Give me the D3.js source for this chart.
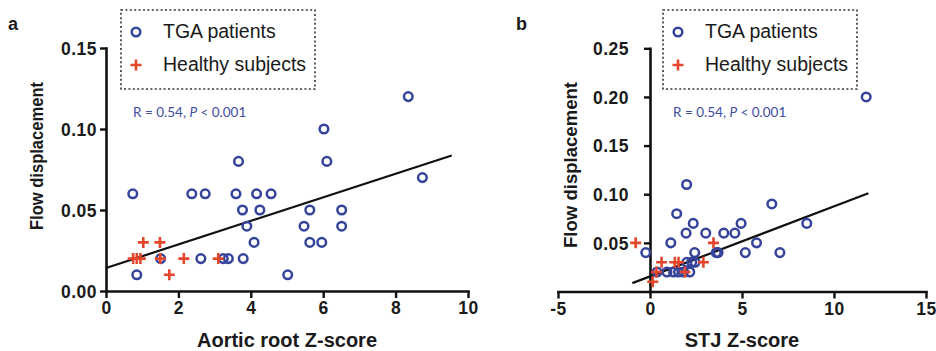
<!DOCTYPE html>
<html>
<head>
<meta charset="utf-8">
<script src="https://cdn.jsdelivr.net/npm/d3@7"></script>
<style>
  body { margin: 0; background: #fff; }
  svg { display: block; }
</style>
</head>
<body>
<svg id="svg"></svg>
<script>
// panel a: aortic root Z-score vs flow displacement
const tgaA = [
  [0.74, 0.06], [2.37, 0.06], [2.74, 0.06], [3.59, 0.06], [4.16, 0.06], [4.56, 0.06],
  [3.77, 0.05], [4.25, 0.05], [5.63, 0.05], [6.51, 0.05],
  [3.89, 0.04], [5.47, 0.04], [6.51, 0.04],
  [4.09, 0.03], [5.63, 0.03], [5.96, 0.03],
  [1.51, 0.02], [2.62, 0.02], [3.24, 0.02], [3.38, 0.02], [3.79, 0.02],
  [0.85, 0.01], [5.02, 0.01],
  [3.66, 0.08], [6.10, 0.08], [6.02, 0.10], [8.35, 0.12], [8.74, 0.07]
];
const healthyA = [
  [1.03, 0.03], [1.49, 0.03],
  [0.75, 0.02], [0.85, 0.02], [0.95, 0.02], [1.50, 0.02], [2.15, 0.02], [3.10, 0.02],
  [1.75, 0.01]
];
const fitA = [[0, 0.0142], [9.55, 0.0836]];

// panel b: STJ Z-score vs flow displacement
const tgaB = [
  [11.75, 0.20], [1.99, 0.11], [1.45, 0.08], [6.62, 0.09],
  [2.35, 0.07], [4.95, 0.07], [8.52, 0.07],
  [1.96, 0.06], [3.03, 0.06], [4.01, 0.06], [4.61, 0.06],
  [1.13, 0.05], [5.79, 0.05],
  [-0.23, 0.04], [2.43, 0.04], [3.60, 0.04], [3.70, 0.04], [5.18, 0.04], [7.06, 0.04],
  [2.00, 0.03], [2.27, 0.03], [2.45, 0.03],
  [0.38, 0.02], [0.92, 0.02], [1.28, 0.02], [1.55, 0.02], [1.82, 0.02], [2.16, 0.02]
];
const healthyB = [
  [-0.78, 0.05], [3.45, 0.05],
  [0.63, 0.03], [1.35, 0.03], [1.55, 0.03], [2.90, 0.03],
  [0.35, 0.02], [1.90, 0.02],
  [0.15, 0.01]
];
const fitB = [[-0.96, 0.0086], [11.87, 0.101]];

const xTicksA = [0, 2, 4, 6, 8, 10];
const yTicksA = [0, 0.05, 0.10, 0.15];
const xTicksB = [-5, 0, 5, 10, 15];
const yTicksB = [0.05, 0.10, 0.15, 0.20, 0.25];

const legendNames = ["TGA patients", "Healthy subjects"];
const statText = ["R = 0.54, ", "P", " < 0.001"];

const width = 936, height = 351;
const blue = "#35449a", red = "#e5472c", statBlue = "#3f4c9e";

const svg = d3.select("#svg")
  .attr("width", width)
  .attr("height", height)
  .attr("viewBox", [0, 0, width, height])
  .attr("font-family", "'Liberation Sans', Arial, sans-serif");

svg.append("rect").attr("width", width).attr("height", height).attr("fill", "#fff");

function crossPath(r) {
  return `M${-r},0H${r}M0,${-r}V${r}`;
}

function drawPanel(p) {
  const g = svg.append("g");
  const x = d3.scaleLinear(p.xDomain, p.xRange);
  const y = d3.scaleLinear(p.yDomain, p.yRange);

  // axes (plain hyphen for negatives, like the original)
  const xAxis = g.append("g")
    .attr("transform", `translate(0,${p.yRange[0]})`)
    .call(d3.axisBottom(x).tickValues(p.xTicks).tickSize(7).tickSizeOuter(0).tickPadding(4)
      .tickFormat(d => String(d)));
  const yAxis = g.append("g")
    .attr("transform", `translate(${x(0)},0)`)
    .call(d3.axisLeft(y).tickValues(p.yTicks).tickSize(6).tickSizeOuter(0).tickPadding(p.yPad)
      .tickFormat(d3.format(".2f")));

  [xAxis, yAxis].forEach(a => {
    a.select(".domain").attr("stroke", "#111").attr("stroke-width", 2.6).attr("stroke-linecap", "square");
    a.selectAll(".tick line").attr("stroke", "#111").attr("stroke-width", 2.4);
    a.selectAll(".tick text")
      .attr("fill", "#1a1a1a")
      .attr("font-size", 17.5)
      .attr("font-weight", "bold")
      .attr("letter-spacing", 0.5);
  });
  yAxis.selectAll(".tick text").attr("dy", "0.36em");

  // regression line
  g.append("path")
    .datum(p.fit)
    .attr("fill", "none")
    .attr("stroke", "#111")
    .attr("stroke-width", 2.2)
    .attr("d", d3.line().x(d => x(d[0])).y(d => y(d[1])));

  // TGA patients
  g.append("g").selectAll("circle")
    .data(p.tga)
    .join("circle")
    .attr("cx", d => x(d[0]))
    .attr("cy", d => y(d[1]))
    .attr("r", 4.3)
    .attr("fill", "none")
    .attr("stroke", blue)
    .attr("stroke-width", 2.5);

  // healthy subjects
  g.append("g").selectAll("path")
    .data(p.healthy)
    .join("path")
    .attr("transform", d => `translate(${x(d[0])},${y(d[1])})`)
    .attr("d", crossPath(5.5))
    .attr("fill", "none")
    .attr("stroke", red)
    .attr("stroke-width", 2.6);

  // titles
  g.append("text")
    .attr("x", (p.xRange[0] + p.xRange[1]) / 2)
    .attr("y", 347)
    .attr("text-anchor", "middle")
    .attr("font-size", 20)
    .attr("font-weight", "bold")
    .attr("fill", "#1a1a1a")
    .text(p.xTitle);

  g.append("text")
    .attr("transform", `translate(${p.yTitleX},${p.yTitleY}) rotate(-90)`)
    .attr("text-anchor", "middle")
    .attr("font-size", 19)
    .attr("font-weight", "bold")
    .attr("fill", "#1a1a1a")
    .attr("textLength", p.yTitleLen)
    .attr("lengthAdjust", "spacingAndGlyphs")
    .text("Flow displacement");

  g.append("text")
    .attr("x", p.letterX)
    .attr("y", 30)
    .attr("font-size", 18)
    .attr("font-weight", "bold")
    .attr("fill", "#1a1a1a")
    .text(p.letter);

  // legend
  const lg = g.append("g").attr("transform", `translate(${p.legendX},10)`);
  lg.append("rect")
    .attr("width", 194).attr("height", 79)
    .attr("fill", "#fff")
    .attr("stroke", "#333")
    .attr("stroke-width", 1.6)
    .attr("stroke-dasharray", "2,2.4");
  lg.append("circle")
    .attr("cx", 15).attr("cy", 22).attr("r", 4.3)
    .attr("fill", "none").attr("stroke", blue).attr("stroke-width", 2.5);
  lg.append("path")
    .attr("transform", "translate(15,55)")
    .attr("d", crossPath(5.5))
    .attr("stroke", red).attr("stroke-width", 2.6);
  lg.selectAll("text.lab")
    .data(legendNames)
    .join("text")
    .attr("class", "lab")
    .attr("x", 42)
    .attr("y", (d, i) => 28 + i * 33)
    .attr("font-size", 19.5)
    .attr("fill", "#1a1a1a")
    .text(d => d);

  // statistics
  const st = g.append("text")
    .attr("x", p.statX)
    .attr("y", 117)
    .attr("font-family", "Lato, 'Open Sans', sans-serif")
    .attr("font-size", 13.5)
    .attr("fill", statBlue);
  st.selectAll("tspan")
    .data(statText)
    .join("tspan")
    .attr("font-style", (d, i) => i === 1 ? "italic" : "normal")
    .text(d => d);
}

drawPanel({
  tga: tgaA, healthy: healthyA, fit: fitA,
  xDomain: [0, 10], xRange: [106, 468],
  yDomain: [0, 0.15], yRange: [291, 48],
  xTicks: xTicksA, yTicks: yTicksA, yPad: 3,
  xTitle: "Aortic root Z-score",
  yTitleX: 43, yTitleY: 156, yTitleLen: 148,
  letter: "a", letterX: 8,
  legendX: 121, statX: 133
});

drawPanel({
  tga: tgaB, healthy: healthyB, fit: fitB,
  xDomain: [-5, 15], xRange: [558, 926],
  yDomain: [0, 0.25], yRange: [291.5, 48.3],
  xTicks: xTicksB, yTicks: yTicksB, yPad: 15,
  xTitle: "STJ Z-score",
  yTitleX: 577, yTitleY: 165, yTitleLen: 166,
  letter: "b", letterX: 516,
  legendX: 663, statX: 673
});
</script>
</body>
</html>
